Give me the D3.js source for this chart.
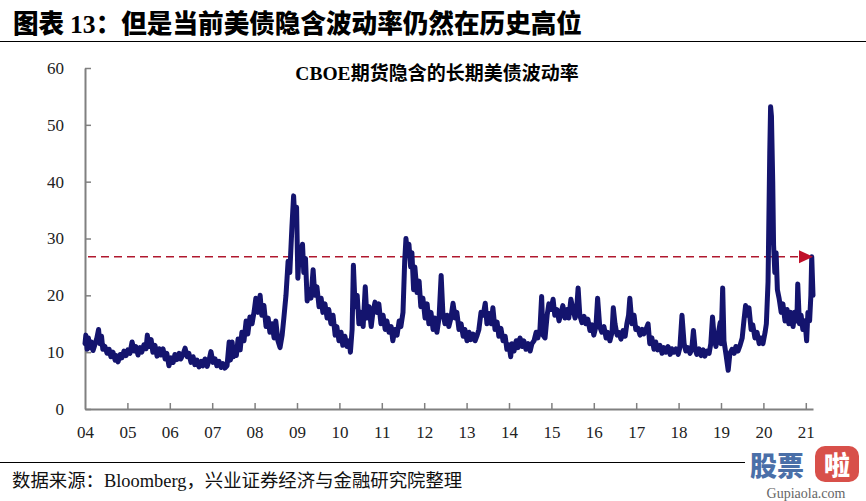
<!DOCTYPE html>
<html><head><meta charset="utf-8">
<script src="https://cdn.jsdelivr.net/npm/d3@7"></script>
<style>body{margin:0;background:#fff;} svg{display:block;}</style>
</head><body>
<svg id="c" width="866" height="501"></svg>
<script>
// ---- data ----
const dates = [
 2004.00,2004.02,2004.05,2004.08,2004.12,2004.15,2004.19,2004.24,2004.28,2004.32,2004.35,2004.39,2004.42,2004.47,2004.52,2004.57,2004.61,2004.66,2004.71,2004.74,2004.78,2004.83,2004.87,2004.92,2004.97,
 2005.01,2005.06,2005.11,2005.16,2005.20,2005.25,2005.30,2005.34,2005.39,2005.44,2005.47,2005.51,2005.56,2005.60,2005.65,2005.70,2005.75,2005.79,2005.84,2005.89,2005.93,2005.98,
 2006.03,2006.08,2006.12,2006.17,2006.22,2006.26,2006.31,2006.36,2006.41,2006.45,2006.50,2006.55,2006.59,2006.64,2006.69,2006.74,2006.78,2006.83,2006.88,2006.92,2006.97,
 2007.02,2007.07,2007.11,2007.16,2007.21,2007.25,2007.30,2007.35,2007.40,2007.43,2007.47,2007.50,2007.54,2007.57,2007.61,2007.66,2007.70,2007.75,2007.80,2007.84,2007.89,2007.94,2007.99,
 2008.03,2008.08,2008.13,2008.17,2008.22,2008.27,2008.32,2008.36,2008.41,2008.46,2008.50,2008.55,2008.60,2008.65,2008.69,2008.74,2008.79,2008.83,2008.88,2008.92,2008.95,2008.99,
 2009.02,2009.06,2009.09,2009.13,2009.16,2009.20,2009.24,2009.28,2009.33,2009.38,2009.42,2009.47,2009.52,2009.57,2009.61,2009.66,2009.71,2009.75,2009.80,2009.85,2009.90,2009.94,2009.99,
 2010.04,2010.08,2010.13,2010.18,2010.23,2010.26,2010.30,2010.33,2010.37,2010.42,2010.46,2010.51,2010.56,2010.61,2010.65,2010.70,2010.75,2010.79,2010.84,2010.89,2010.93,2010.98,
 2011.03,2011.08,2011.12,2011.17,2011.22,2011.26,2011.31,2011.36,2011.41,2011.45,2011.50,2011.54,2011.57,2011.61,2011.64,2011.68,2011.71,2011.75,2011.78,2011.83,2011.88,2011.92,2011.97,
 2012.02,2012.07,2012.11,2012.16,2012.21,2012.25,2012.30,2012.35,2012.40,2012.44,2012.49,2012.54,2012.58,2012.63,2012.68,2012.73,2012.77,2012.82,2012.87,2012.92,2012.96,
 2013.01,2013.06,2013.10,2013.15,2013.20,2013.25,2013.29,2013.34,2013.39,2013.44,2013.48,2013.53,2013.58,2013.62,2013.67,2013.72,2013.76,2013.81,2013.86,2013.91,2013.95,
 2014.00,2014.04,2014.07,2014.12,2014.17,2014.21,2014.26,2014.31,2014.35,2014.40,2014.45,2014.50,2014.54,2014.59,2014.64,2014.68,2014.73,2014.77,2014.80,2014.85,2014.90,2014.94,2014.99,
 2015.04,2015.08,2015.13,2015.18,2015.23,2015.27,2015.32,2015.37,2015.41,2015.46,2015.51,2015.56,2015.59,2015.63,2015.67,2015.72,2015.77,2015.81,2015.86,2015.91,2015.96,
 2016.00,2016.05,2016.09,2016.14,2016.19,2016.24,2016.29,2016.33,2016.38,2016.43,2016.46,2016.50,2016.55,2016.59,2016.64,2016.69,2016.74,2016.78,2016.82,2016.85,2016.90,2016.95,2016.99,
 2017.04,2017.09,2017.14,2017.18,2017.23,2017.28,2017.32,2017.37,2017.42,2017.46,2017.51,2017.56,2017.61,2017.65,2017.70,2017.75,2017.80,2017.84,2017.89,2017.94,2017.99,
 2018.03,2018.08,2018.13,2018.17,2018.22,2018.27,2018.31,2018.35,2018.39,2018.43,2018.48,2018.53,2018.58,2018.62,2018.67,2018.72,2018.76,2018.80,2018.84,2018.88,2018.93,2018.98,
 2019.00,2019.04,2019.07,2019.12,2019.17,2019.21,2019.26,2019.31,2019.35,2019.40,2019.45,2019.50,2019.54,2019.58,2019.61,2019.66,2019.71,2019.75,2019.80,2019.85,2019.90,2019.94,2019.99,
 2020.04,2020.07,2020.11,2020.15,2020.17,2020.19,2020.22,2020.24,2020.27,2020.30,2020.33,2020.37,2020.42,2020.46,2020.51,2020.56,2020.60,2020.65,2020.70,2020.74,2020.79,2020.81,2020.85,2020.89,2020.93,2020.98,
 2021.02,2021.05,2021.09,2021.12,2021.14,2021.17
];
const vol = [
 11.5,13,10.5,12.5,10.8,11.8,10.3,11.5,12.5,14,11.5,12.8,10.5,11,9.8,10.5,9.2,10,8.6,9.4,8.3,9.6,9.0,10.2,9.4,
 10.4,9.8,11.8,10.2,11,9.5,10.8,10,11.3,10.6,13,11,12.2,10,11.2,9.3,10.6,9.5,10.6,8.8,9.8,7.6,
 9,8.2,9.6,8.7,9.8,8.8,9.6,10.7,9.2,9.8,8.2,9.2,7.8,8.6,7.4,8.4,7.6,8.8,7.5,8.4,10.1,
 8.2,8.8,7.6,8.4,7.3,8,7.2,7.6,11.8,8.6,11.8,9.2,10.6,9.4,12.3,10.4,13.5,12,15.5,13.2,16.2,15,17.2,
 19.5,17,20,16.5,18.2,14.5,16,13.5,15,12.5,15.5,12,10.8,13,16,20,26,24,32,37.5,33,35.5,
 23,28.5,27,29,24,26.5,19,21,19.5,24.5,20,21.5,18,19.5,17,18.5,16,17.5,15,16.5,13,14.5,12,
 13.5,11.2,12.8,11,12,10,14,25.3,18,20,15,17,14.5,21.5,16,18,14.5,17,18.8,17,18.5,15,
 16.5,14,15.5,13.5,14.5,12,14,13,15.5,14.5,17,26,30,27,29,25,27.5,21,25,20.5,22.5,18,19.5,
 16,18.5,15,17,14,16,13.5,16,23.5,17,15,16.5,14.5,16,18.6,16,17,14,15,12.8,14,
 12,13.5,12.2,13.2,12,13,14,17,16.5,18.6,15,16.8,15,17.8,14,15.3,12.8,14.2,12,12.8,10.5,
 11.3,9.2,11.5,10.2,12,10.8,12.5,11,12,10.5,11.5,10.2,11.5,12,13.5,12.5,14,19.8,13,12.5,16.5,18.5,17.5,
 19.3,16.5,17.5,15.5,17,18.2,16,17.5,16,19.3,17.5,16,17,21.3,16.5,15.2,16.3,15,15.8,13.8,14.8,
 13,14.5,19.5,14.5,13.5,14.5,12.5,13.5,12,13.5,17.8,15,13,13.5,12.3,13.8,12.8,15,16.5,19.5,15,16.5,14,
 14.2,13,14,13.2,14,15,11.5,12.5,10.5,11.8,10.4,11.2,9.8,10.8,10,11,9.6,10.6,10,10.6,9.6,
 10.8,16.5,11.5,10.2,10.8,9.8,10.5,13.8,10.5,9.6,10.6,9.4,10.4,9.3,10.2,9.8,11.5,16.2,12.5,11,13,15.2,
 11.5,21.3,12,9.5,6.8,9.8,10.5,9.8,11,10.2,11.2,12.5,15.5,18.2,16.5,17.8,14,14.8,12.5,13.5,11.5,12.5,11.5,
 13.5,15,22.4,45,53.2,51.5,40,28.9,24,27.5,21,19.5,17,18.5,15.5,17.5,15,17,14.5,17,15.5,22,15,16.5,14,15.5,
 12,17,15.5,20,26.8,20
];
const yearTicks = [2004,2005,2006,2007,2008,2009,2010,2011,2012,2013,2014,2015,2016,2017,2018,2019,2020,2021];
const yearLabels = ["04","05","06","07","08","09","10","11","12","13","14","15","16","17","18","19","20","21"];
const valueTicks = [0,10,20,30,40,50,60];
const refLevel = 26.8;
const xDomain = [2004, 2021.17];
const yDomain = [0, 60];
const figTitleNum = "13";
const figTitlePre = "图表 ";
const figTitlePost = "：但是当前美债隐含波动率仍然在历史高位";
const chartTitleLatin = "CBOE";
const chartTitleCJK = "期货隐含的长期美债波动率";
const sourceText = ["数据来源：", "Bloomberg", "，兴业证券经济与金融研究院整理"];

// ---- drawing ----
const svg = d3.select("#c");
const x = d3.scaleLinear().domain(xDomain).range([85, 813]);
const y = d3.scaleLinear().domain(yDomain).range([409, 68]);
const serif = "'Liberation Serif','Times New Roman',serif";
const cjk = "'Noto Sans CJK SC','Noto Sans',sans-serif";

// figure title
const t = svg.append("text").attr("x", 13).attr("y", 33)
  .attr("font-family", cjk).attr("font-weight", 900).attr("font-size", 25.6).attr("fill", "#000");
t.append("tspan").text(figTitlePre);
t.append("tspan").attr("font-family", serif).attr("font-weight", 700).text(figTitleNum);
t.append("tspan").text(figTitlePost);
svg.append("line").attr("x1", 0).attr("x2", 866).attr("y1", 41.5).attr("y2", 41.5)
  .attr("stroke", "#000").attr("stroke-width", 1);

// axes
const axisColor = "#808080";
const yAxis = svg.append("g").attr("transform", "translate(85,0)")
  .call(d3.axisLeft(y).tickValues(valueTicks).tickSize(-6).tickSizeOuter(0).tickPadding(21));
const xAxis = svg.append("g").attr("transform", "translate(0,409)")
  .call(d3.axisBottom(x).tickValues(yearTicks).tickFormat((d, i) => yearLabels[i])
    .tickSize(-6).tickSizeOuter(0).tickPadding(17));
[yAxis, xAxis].forEach(g => {
  g.select(".domain").attr("stroke", axisColor).attr("stroke-width", 2);
  g.selectAll(".tick line").attr("stroke", axisColor).attr("stroke-width", 1.5);
  g.selectAll(".tick text").attr("font-family", serif).attr("font-size", 17).attr("fill", "#222");
});
xAxis.selectAll(".tick").filter(d => d === 2004).select("line").remove();

// chart title
const ct = svg.append("text").attr("x", 437).attr("y", 80).attr("text-anchor", "middle")
  .attr("font-size", 19).attr("font-weight", 700).attr("fill", "#000");
ct.append("tspan").attr("font-family", serif).attr("font-size", 19.5).text(chartTitleLatin);
ct.append("tspan").attr("font-family", cjk).text(chartTitleCJK);

// reference line + arrow
const yr = y(refLevel);
const tipX = x(xDomain[1]);
svg.append("line").attr("x1", 88).attr("x2", tipX - 14).attr("y1", yr).attr("y2", yr)
  .attr("stroke", "#b0182e").attr("stroke-width", 1.6).attr("stroke-dasharray", "8,5");

// series line
const pts = dates.map((d, i) => [d, vol[i]]);
svg.append("path").datum(pts)
  .attr("d", d3.line().x(d => x(d[0])).y(d => y(d[1])))
  .attr("fill", "none").attr("stroke", "#14146e").attr("stroke-width", 5)
  .attr("stroke-linejoin", "round").attr("stroke-linecap", "round");

svg.append("path")
  .attr("d", `M${tipX - 14},${yr - 6.5}L${tipX},${yr}L${tipX - 14},${yr + 6.5}Z`)
  .attr("fill", "#c0102a");

// footer
svg.append("line").attr("x1", 0).attr("x2", 745).attr("y1", 462.5).attr("y2", 462.5)
  .attr("stroke", "#000").attr("stroke-width", 1);
const ft = svg.append("text").attr("x", 12).attr("y", 487).attr("font-size", 18.4).attr("fill", "#111")
  .attr("font-family", cjk);
ft.append("tspan").text(sourceText[0]);
ft.append("tspan").attr("font-family", serif).text(sourceText[1]);
ft.append("tspan").text(sourceText[2]);

// watermark
const wm = svg.append("g");
wm.append("text").attr("x", 750).attr("y", 476).attr("font-family", cjk).attr("font-weight", 900)
  .attr("font-size", 27).attr("fill", "#4a6fa8").text("股票");
wm.append("rect").attr("x", 815).attr("y", 446).attr("width", 44).attr("height", 36).attr("rx", 10)
  .attr("fill", "#d8504a");
wm.append("text").attr("x", 837).attr("y", 475).attr("text-anchor", "middle").attr("font-family", cjk)
  .attr("font-weight", 900).attr("font-size", 26).attr("fill", "#fff").text("啦");
wm.append("text").attr("x", 806).attr("y", 498).attr("text-anchor", "middle").attr("font-family", serif)
  .attr("font-size", 14).attr("fill", "#666").text("Gupiaola.com");
</script>
</body></html>
